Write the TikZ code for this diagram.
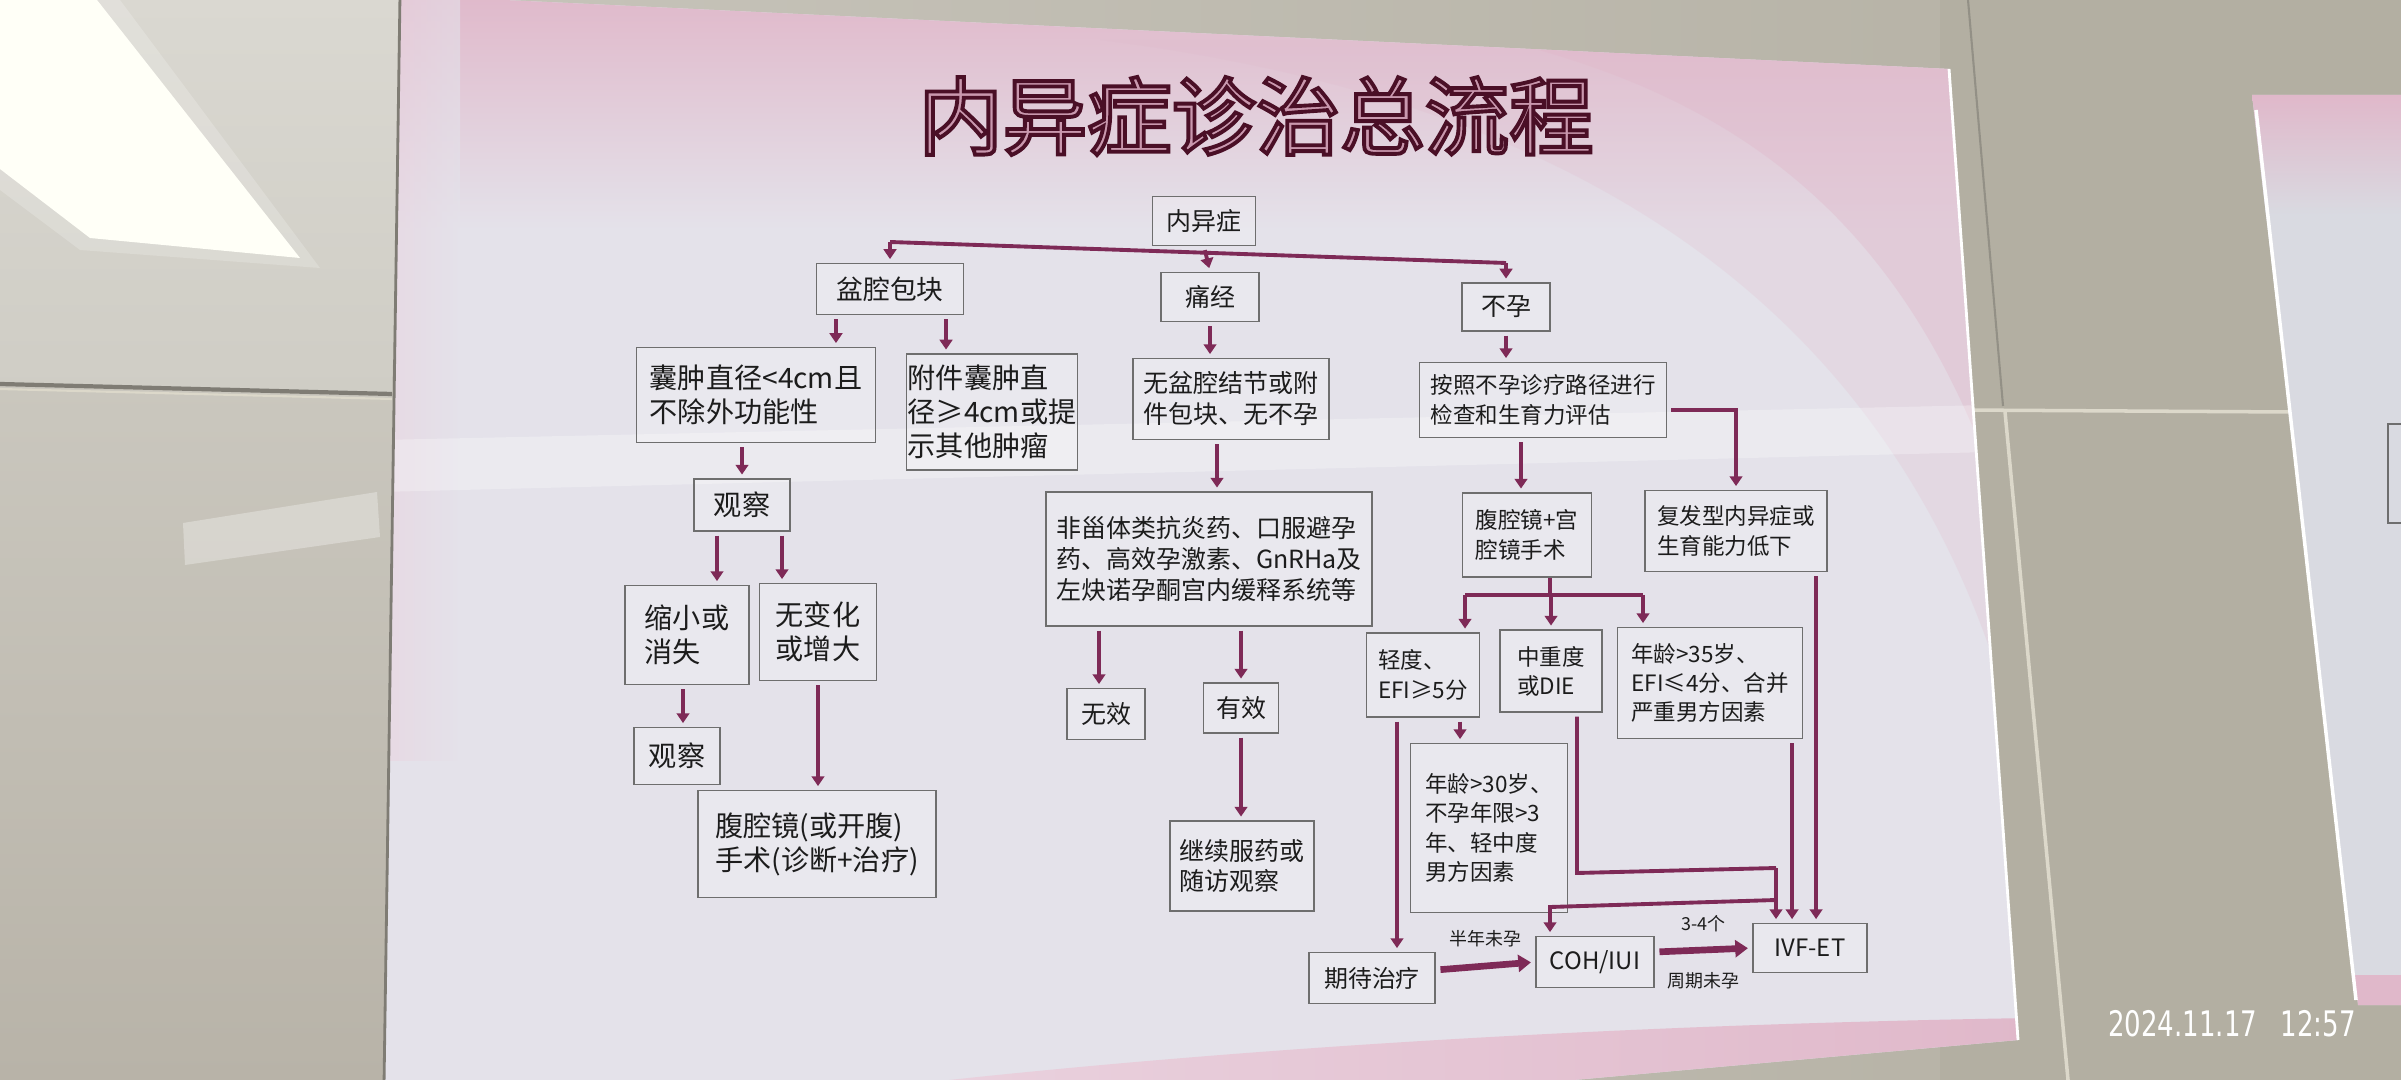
\documentclass[tikz,border=0pt]{standalone}
\usepackage{fontspec}
\newfontfamily\cjk{Noto Sans CJK SC}
\newfontfamily\stampfont{DejaVu Sans}
\usetikzlibrary{arrows.meta}
\definecolor{wallL}{HTML}{CBC8BF}
\definecolor{wallR}{HTML}{B3AFA2}
\definecolor{wallLt1}{HTML}{DAD8D1}
\definecolor{wallLb1}{HTML}{CFCDC5}
\definecolor{wallLt2}{HTML}{CAC7BE}
\definecolor{wallLb2}{HTML}{B8B3A8}
\definecolor{seamD}{HTML}{7F7C74}
\definecolor{seamL}{HTML}{DCD8CA}
\definecolor{posterbase}{HTML}{E4E2EA}
\definecolor{poster2}{HTML}{D9DAE1}
\definecolor{pinkA}{HTML}{E0B8CA}
\definecolor{pinkB}{HTML}{EAD3DF}
\definecolor{boxgray}{HTML}{6E6E6E}
\definecolor{txt}{HTML}{1C1C1C}
\definecolor{conncol}{HTML}{7E2A57}
\definecolor{titleface}{HTML}{C998AE}
\newcommand\outlinetitle[1]{\special{pdf:literal direct 2 Tr 1.1 w 0.29 0.06 0.15 RG}#1\special{pdf:literal direct 0 Tr}}
\tikzset{
  box/.style={draw=boxgray, line width=0.5pt, fill=white, fill opacity=0.22, text opacity=1, text=txt, inner sep=0pt, align=left},
  sz/.style 2 args={minimum width=#1*0.01cm, minimum height=#2*0.01cm},
  fL/.style={font=\cjk\fontsize{8}{9.6}\selectfont},
  fP/.style={font=\cjk\fontsize{7.6}{9}\selectfont},
  fM/.style={font=\cjk\fontsize{7.1}{8.8}\selectfont},
  fR/.style={font=\cjk\fontsize{6.4}{8.3}\selectfont},
  fB/.style={font=\cjk\fontsize{6.8}{8.3}\selectfont},
  fS/.style={font=\cjk\fontsize{5.1}{6}\selectfont},
  titlefont/.style={font=\cjk\fontsize{24}{24}\selectfont, inner sep=0pt},
  conn/.style={draw=conncol, line width=1.1pt, line join=miter},
  arr/.style={conn, -{Triangle[length=2.8pt,width=3.6pt]}, shorten <=1.1pt, shorten >=1pt},
  arrc/.style={conn, -{Triangle[length=2.8pt,width=3.6pt]}, shorten >=1pt},
  arrT/.style={draw=conncol, line width=1.9pt, -{Triangle[length=3.6pt,width=4.8pt]}, shorten <=1.3pt, shorten >=1.2pt},
}
\begin{document}
\begin{tikzpicture}[x=0.01cm,y=-0.01cm]
\useasboundingbox (0,0) rectangle (2401,1080);
% ---------- wall ----------
\shade[left color=wallL, right color=wallR] (0,0) rectangle (2401,1080);
\shade[top color=wallLt1, bottom color=wallLb1] (0,0) -- (402,0) -- (392,394) -- (0,384) -- cycle;
\shade[top color=wallLt2, bottom color=wallLb2] (0,384) -- (392,394) -- (384,1080) -- (0,1080) -- cycle;
\draw[seamD, line width=1.2pt] (0,384) -- (392,394);
\draw[seamL, line width=0.6pt] (0,389) -- (392,399);
\fill[white, opacity=0.2] (0,0) -- (120,0) -- (320,268) -- (80,250) -- (0,190) -- cycle;
\fill[white!97!yellow] (0,0) -- (97,0) -- (300,258) -- (90,238) -- (0,169) -- cycle;
\fill[white, opacity=0.3] (183,523) -- (377,492) -- (380,537) -- (185,565) -- cycle;
\fill[wallR] (1940,0) rectangle (2401,1080);
\draw[seamL, line width=1pt] (1960,410) -- (2290,412);
\draw[seamL, line width=1pt] (2005,412) -- (2068,1080);
\draw[seamD, line width=0.6pt, opacity=0.6] (1968,0) -- (2003,406);
% ---------- second poster ----------
\fill[poster2] (2252,95) -- (2420,95) -- (2420,1005) -- (2358,1005) -- cycle;
\begin{scope}
  \clip (2252,95) -- (2420,95) -- (2420,1005) -- (2358,1005) -- cycle;
  \shade[top color=pinkA, bottom color=poster2] (2240,95) rectangle (2420,215);
  \fill[pinkA] (2240,975) rectangle (2420,1010);
\end{scope}
\draw[white, line width=1pt] (2256,110) -- (2356,1000);
\draw[boxgray, line width=0.5pt] (2388,424) rectangle (2440,523);
% ---------- main poster ----------
\fill[posterbase] (400,-5) -- (1949,69) -- (2018,1040) -- (1518,1085) -- (384,1085) -- cycle;
\begin{scope}
  \clip (400,-5) -- (1949,69) -- (2018,1040) -- (1518,1085) -- (384,1085) -- cycle;
  \shade[top color=pinkA, bottom color=posterbase] (380,-10) rectangle (2030,230);
  \fill[pinkA, opacity=0.22] (1100,40) .. controls (1500,90) and (1850,250) .. (1990,650) -- (1990,40) -- cycle;
  \fill[pinkA, opacity=0.4] (1500,40) .. controls (1750,100) and (1900,230) .. (1990,470) -- (1990,40) -- cycle;
  \shade[left color=pinkB, right color=posterbase, opacity=0.6] (380,-10) rectangle (460,760);
  \shade[left color=pinkB, right color=pinkA] (860,1090) .. controls (1200,1050) and (1600,1025) .. (2030,1018) -- (2030,1100) -- cycle;
  \fill[white, opacity=0.28] (380,440) -- (1990,405) -- (1990,452) -- (380,492) -- cycle;
\end{scope}
\draw[seamD, line width=0.8pt] (400,-5) -- (384,1085);
\draw[white, line width=0.8pt] (1949,69) -- (2018,1040);
% ---------- title ----------
\node[titlefont, text=titleface] (title) at (1256,116) {\outlinetitle{内异症诊治总流程}};
% ---------- nodes ----------
\node[box,fM,sz={103}{49}] (root) at (1204,221) {内异症};
\node[box,fP,sz={147}{51}] (pq) at (890,289) {盆腔包块};
\node[box,fM,sz={98}{49}] (tj) at (1210,297) {痛经};
\node[box,fM,sz={88}{48}] (by) at (1506,307) {不孕};
\node[box,fL,sz={239}{95}] (n5) at (756,395) {囊肿直径<4cm且\\不除外功能性};
\node[box,fL,sz={171}{116}] (n6) at (992,412) {附件囊肿直\\径≥4cm或提\\示其他肿瘤};
\node[box,fL,sz={96}{52}] (gc1) at (742,505) {观察};
\node[box,fL,sz={124}{99}] (sx) at (687,635) {缩小或\\消失};
\node[box,fL,sz={117}{97}] (wb) at (818,632) {无变化\\或增大};
\node[box,fL,sz={86}{57}] (gc2) at (677,756) {观察};
\node[box,fL,sz={238}{107}] (fq) at (817,844) {腹腔镜(或开腹)\\手术(诊断+治疗)};
\node[box,fM,sz={196}{81}] (wp) at (1231,399) {无盆腔结节或附\\件包块、无不孕};
\node[box,fM,sz={326}{134}] (yw) at (1209,559) {非甾体类抗炎药、口服避孕\\药、高效孕激素、GnRHa及\\左炔诺孕酮宫内缓释系统等};
\node[box,fM,sz={78}{51}] (wx) at (1106,714) {无效};
\node[box,fM,sz={75}{50}] (yx) at (1241,708) {有效};
\node[box,fM,sz={144}{90}] (jx) at (1242,866) {继续服药或\\随访观察};
\node[box,fR,sz={247}{75}] (az) at (1543,400) {按照不孕诊疗路径进行\\检查和生育力评估};
\node[box,fR,sz={129}{84}] (fqg) at (1527,535) {腹腔镜+宫\\腔镜手术};
\node[box,fR,sz={182}{81}] (ff) at (1736,531) {复发型内异症或\\生育能力低下};
\node[box,fR,sz={113}{84}] (qd) at (1423,675) {轻度、\\EFI≥5分};
\node[box,fR,sz={102}{82}] (zz) at (1551,671) {中重度\\或DIE};
\node[box,fR,sz={185}{111}] (nl35) at (1710,683) {年龄>35岁、\\EFI≤4分、合并\\严重男方因素};
\node[box,fR,sz={157}{169}] (nl30) at (1489,828) {年龄>30岁、\\不孕年限>3\\年、轻中度\\男方因素};
\node[box,fB,sz={126}{51}] (qdzl) at (1372,978) {期待治疗};
\node[box,fB,sz={118}{51}] (coh) at (1595,962) {COH/IUI};
\node[box,fB,sz={114}{49}] (ivf) at (1810,948) {IVF-ET};
% ---------- connectors ----------
\coordinate (barL) at (890,242);
\coordinate (barR) at (1506,263);
\draw[conn] (barL) -- (barR);
\draw[arrc] (barL) -- (pq.north);
\draw[arrc] (barR) -- (by.north);
\draw[arr] (root.south) -- (tj.north);
\draw[arr] ([xshift=-0.54cm]pq.south) -- ([xshift=-0.54cm]pq.south |- n5.north);
\draw[arr] ([xshift=0.56cm]pq.south) -- ([xshift=0.56cm]pq.south |- n6.north);
\draw[arr] (gc1.north |- n5.south) -- (gc1.north);
\draw[arr] ([xshift=-0.25cm]gc1.south) -- ([xshift=-0.25cm]gc1.south |- sx.north);
\draw[arr] ([xshift=0.4cm]gc1.south) -- ([xshift=0.4cm]gc1.south |- wb.north);
\draw[arr] ([xshift=0.06cm]gc2.north |- sx.south) -- ([xshift=0.06cm]gc2.north);
\draw[arr] (wb.south) -- (wb.south |- fq.north);
\draw[arr] (tj.south) -- (tj.south |- wp.north);
\draw[arr] ([xshift=-0.14cm]wp.south) -- ([xshift=-0.14cm]wp.south |- yw.north);
\draw[arr] ([xshift=-0.07cm]wx.north |- yw.south) -- ([xshift=-0.07cm]wx.north);
\draw[arr] (yx.north |- yw.south) -- (yx.north);
\draw[arr] (yx.south) -- (yx.south |- jx.north);
\draw[arr] (by.south) -- (by.south |- az.north);
\draw[arr] ([xshift=-0.22cm]az.south) -- ([xshift=-0.22cm]az.south |- fqg.north);
\draw[arr] ([yshift=-0.1cm]az.east) -| (ff.north);
\coordinate (b2L) at (1465,595);
\coordinate (b2R) at (1643,595);
\draw[conn] ([xshift=0.23cm]fqg.south) -- ([xshift=0.23cm]fqg.south |- b2L);
\draw[conn] (b2L) -- (b2R);
\draw[arrc] (b2L) -- (b2L |- qd.north);
\draw[arrc] (zz.north |- b2L) -- (zz.north);
\draw[arrc] (b2R) -- (b2R |- nl35.north);
\draw[arr] ([xshift=0.37cm]qd.south) -- ([xshift=0.37cm]qd.south |- nl30.north);
\draw[arr] ([xshift=-0.26cm]qd.south) -- ([xshift=-0.26cm]qd.south |- qdzl.north);
\coordinate (zc) at (1577,873);
\coordinate (zr) at (1776,868);
\draw[conn, shorten <=1.1pt] ([xshift=0.26cm]zz.south) -- (zc) -- (zr);
\draw[arrc] (zr) -- (zr |- ivf.north);
\coordinate (cj) at (1776,900);
\coordinate (cl) at (1550,907);
\draw[arrc] (cj) -- (cl) -- (cl |- coh.north);
\draw[arr] ([xshift=0.82cm]nl35.south) -- ([xshift=0.82cm]nl35.south |- ivf.north);
\draw[arr] ([xshift=0.8cm]ff.south) -- ([xshift=0.8cm]ff.south |- ivf.north);
\draw[arrT] ([yshift=0.08cm]qdzl.east) -- (coh.west) node[midway, above=1pt, fS, text=txt] (lb1) {半年未孕};
\draw[arrT] ([yshift=0.1cm]coh.east) -- (ivf.west) node[midway, above=1pt, fS, text=txt] (lb2) {3-4个} node[midway, below=2pt, fS, text=txt] (lb3) {周期未孕};
% ---------- timestamp ----------
\node[text=white, font=\stampfont\fontsize{10}{12}\selectfont, xscale=0.74, inner sep=0pt] (stamp) at (2232,1024) {2024.11.17\hspace{0.9em}12:57};
\end{tikzpicture}
\end{document}
